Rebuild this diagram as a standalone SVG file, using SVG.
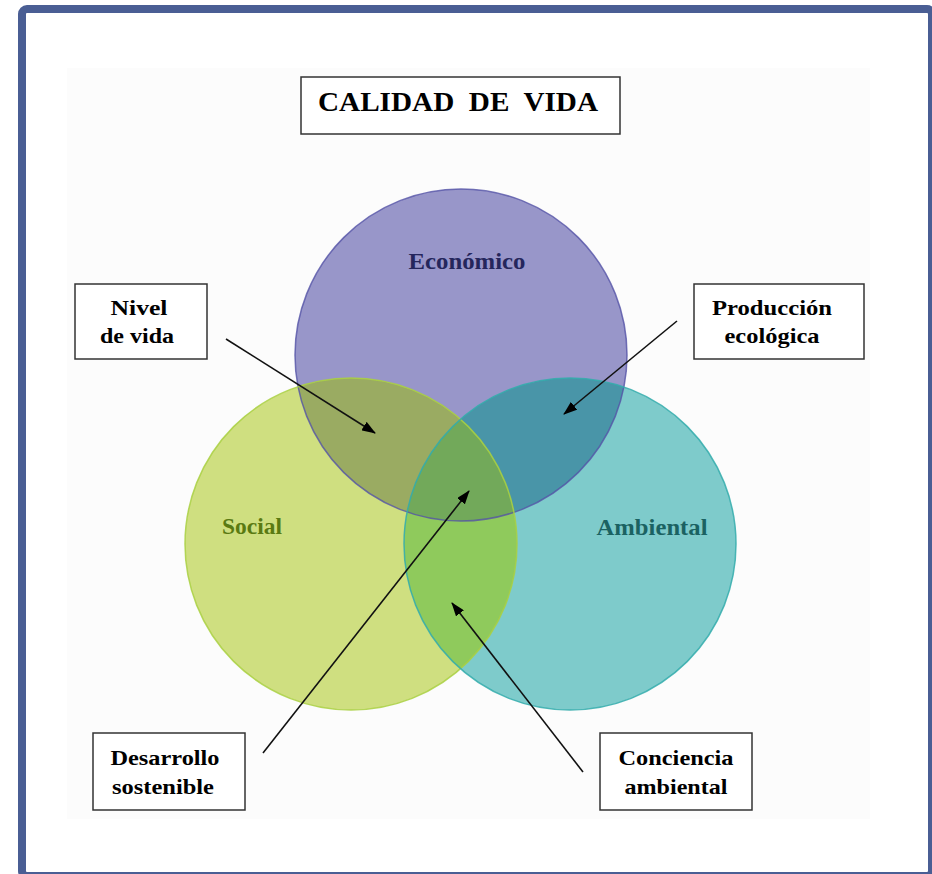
<svg xmlns="http://www.w3.org/2000/svg" width="932" height="874" viewBox="0 0 932 874">
<style>
.box{fill:#ffffff;stroke:#333333;stroke-width:1.5}
.lbl{font-family:"Liberation Serif","Times New Roman",serif;font-weight:bold;font-size:22px;fill:#000000;text-anchor:middle}
.cl{font-family:"Liberation Serif","Times New Roman",serif;font-weight:bold;font-size:23px;text-anchor:middle}
.conn{stroke:#111111;stroke-width:1.6;fill:none;marker-end:url(#ah)}
</style>
<defs>
<marker id="ah" viewBox="0 0 14 10" refX="13" refY="5" markerWidth="14" markerHeight="10" markerUnits="userSpaceOnUse" orient="auto">
<path d="M0,0 L14,5 L0,10 z" fill="#000000"/>
</marker>
<clipPath id="cE"><circle cx="461" cy="355" r="166"/></clipPath>
<clipPath id="cS"><circle cx="351" cy="544" r="166"/></clipPath>
</defs>
<rect x="0" y="0" width="932" height="874" fill="#ffffff"/>
<rect x="22" y="9" width="910" height="867" rx="5" fill="#ffffff" stroke="#4a5e94" stroke-width="8"/>
<rect x="67" y="68" width="803" height="751" fill="#fcfcfc"/>

<g id="venn">
<g id="economico">
<circle cx="461" cy="355" r="166" fill="#9896c9"/>
</g>
<g id="social">
<circle cx="351" cy="544" r="166" fill="#cfdf80"/>
</g>
<g id="ambiental">
<circle cx="570" cy="544" r="166" fill="#7ecbcb"/>
</g>
<circle cx="351" cy="544" r="166" fill="#9aab62" clip-path="url(#cE)"/>
<circle cx="570" cy="544" r="166" fill="#4995a8" clip-path="url(#cE)"/>
<circle cx="570" cy="544" r="166" fill="#8fca5c" clip-path="url(#cS)"/>
<g clip-path="url(#cE)"><circle cx="570" cy="544" r="166" fill="#72a95a" clip-path="url(#cS)"/></g>
<circle cx="461" cy="355" r="166" fill="none" stroke="#5453a6" stroke-width="1.5" stroke-opacity="0.8"/>
<circle cx="351" cy="544" r="166" fill="none" stroke="#a9d042" stroke-width="1.5" stroke-opacity="0.85"/>
<circle cx="570" cy="544" r="166" fill="none" stroke="#33abab" stroke-width="1.5" stroke-opacity="0.85"/>
<text class="cl" x="467" y="269" fill="#25265c" textLength="117" lengthAdjust="spacingAndGlyphs">Económico</text>
<text class="cl" x="252" y="534" fill="#5a7a12" textLength="60" lengthAdjust="spacingAndGlyphs">Social</text>
<text class="cl" x="652" y="535" fill="#1b6262" textLength="111" lengthAdjust="spacingAndGlyphs">Ambiental</text>
</g>

<g id="title">
<rect class="box" x="301" y="77" width="319" height="57"/>
<text x="458" y="111" font-family="Liberation Serif, Times New Roman, serif" font-weight="bold" font-size="27" text-anchor="middle" textLength="280" lengthAdjust="spacingAndGlyphs" xml:space="preserve">CALIDAD  DE  VIDA</text>
</g>

<g id="nivel-de-vida">
<rect class="box" x="75" y="284" width="132" height="75"/>
<text class="lbl" x="139" y="315" textLength="57" lengthAdjust="spacingAndGlyphs">Nivel</text>
<text class="lbl" x="137" y="343" textLength="74" lengthAdjust="spacingAndGlyphs">de vida</text>
</g>

<g id="produccion-ecologica">
<rect class="box" x="694" y="284" width="170" height="75"/>
<text class="lbl" x="772" y="315" textLength="120" lengthAdjust="spacingAndGlyphs">Producción</text>
<text class="lbl" x="772" y="343" textLength="95" lengthAdjust="spacingAndGlyphs">ecológica</text>
</g>

<g id="desarrollo-sostenible">
<rect class="box" x="93" y="733" width="152" height="77"/>
<text class="lbl" x="165" y="765" textLength="109" lengthAdjust="spacingAndGlyphs">Desarrollo</text>
<text class="lbl" x="163" y="794" textLength="102" lengthAdjust="spacingAndGlyphs">sostenible</text>
</g>

<g id="conciencia-ambiental">
<rect class="box" x="600" y="733" width="152" height="77"/>
<text class="lbl" x="676" y="765" textLength="115" lengthAdjust="spacingAndGlyphs">Conciencia</text>
<text class="lbl" x="676" y="794" textLength="103" lengthAdjust="spacingAndGlyphs">ambiental</text>
</g>

<g id="connectors">
<line class="conn" x1="226" y1="339" x2="375" y2="433"/>
<line class="conn" x1="677" y1="321" x2="564" y2="414"/>
<line class="conn" x1="263" y1="753" x2="469" y2="491"/>
<line class="conn" x1="583" y1="772" x2="452" y2="603"/>
</g>
</svg>
